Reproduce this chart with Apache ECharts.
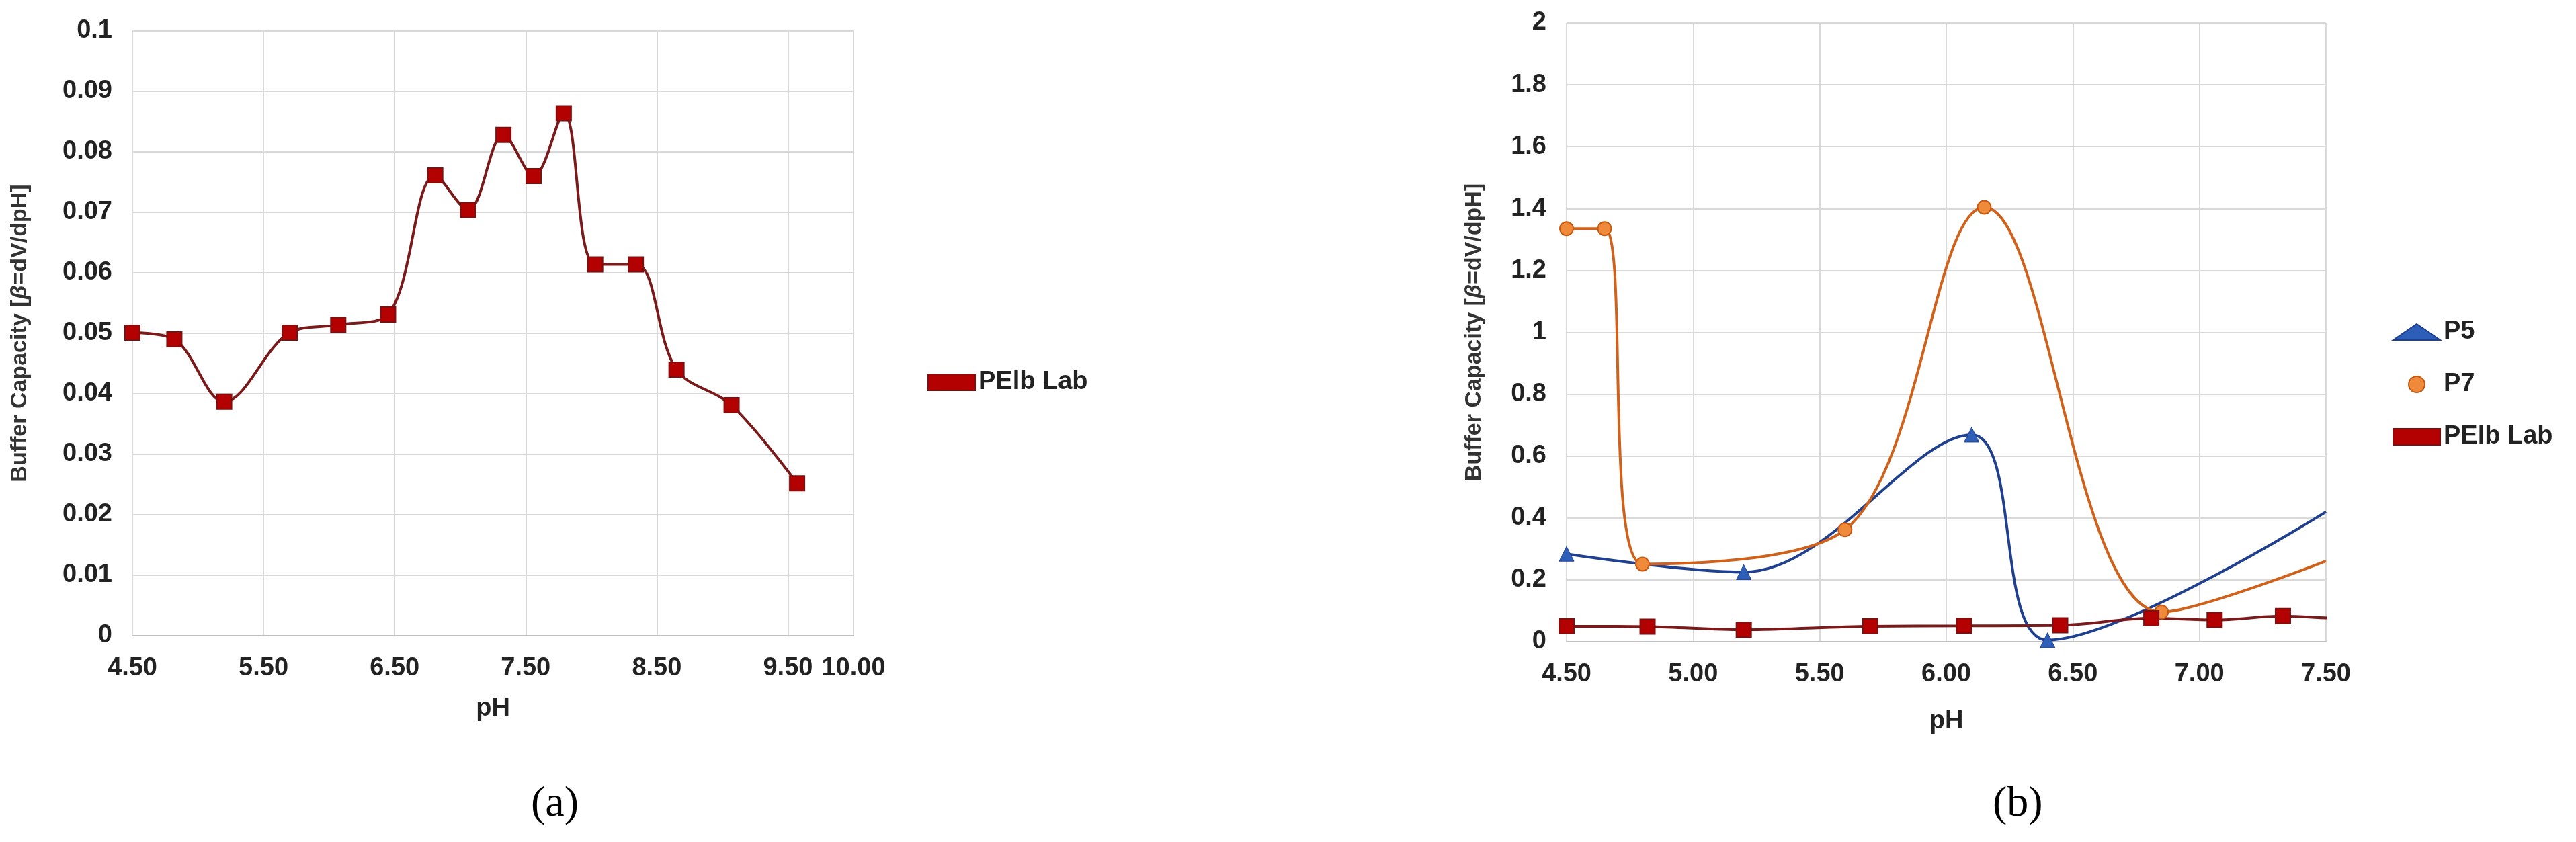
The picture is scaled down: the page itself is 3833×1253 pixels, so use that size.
<!DOCTYPE html>
<html>
<head>
<meta charset="utf-8">
<script src="https://cdn.jsdelivr.net/npm/echarts@6/dist/echarts.min.js"></script>
<style>
  html, body { margin: 0; padding: 0; background: #fff; }
  #chart { width: 3833px; height: 1253px; }
</style>
</head>
<body>
<div id="chart"></div>
<script>
// panel (a): PElb Lab
var pelbPH  = [4.50, 4.82, 5.20, 5.70, 6.07, 6.45, 6.81, 7.06, 7.33, 7.56, 7.79, 8.03, 8.34, 8.65, 9.07, 9.57];
var pelbBC  = [0.0501, 0.0490, 0.0387, 0.0501, 0.0514, 0.0531, 0.0761, 0.0704, 0.0828, 0.0760, 0.0864, 0.0614, 0.0614, 0.0440, 0.0381, 0.0252];
// panel (b)
var p5PH = [4.50, 5.20, 6.10, 6.40, 7.50];
var p5BC = [0.284, 0.225, 0.669, 0.005, 0.42];
var p7PH = [4.50, 4.65, 4.80, 5.60, 6.15, 6.85, 7.50];
var p7BC = [1.335, 1.335, 0.251, 0.362, 1.404, 0.096, 0.261];
var p5Marked = 4, p7Marked = 6;   // last point is the curve leaving the plot, no marker

var FONT = "'Liberation Sans Narrow', 'Liberation Sans', Arial, sans-serif";
var axisText = { fontFamily: FONT, fontWeight: 'bold', fontSize: 38, color: '#222' };

function pairs(xs, ys, shift, nMarked) {
  return xs.map(function (x, i) {
    var item = { value: [x - shift, ys[i]] };
    if (nMarked != null && i >= nMarked) item.symbol = 'none';
    return item;
  });
}

var yName = {
  text: '{n|Buffer Capacity [}{b|β}{n|=dV/dpH]}',
};

var chart = echarts.init(document.getElementById('chart'));
var option = {
  backgroundColor: '#fff',
  animation: false,
  grid: [
    { left: 197, top: 46, width: 1073, height: 900 },
    { left: 2331, top: 34, width: 1130, height: 921 }
  ],
  xAxis: [
    { // shifted by 0.5 so ticks fall on 4.5, 5.5, ...
      gridIndex: 0, type: 'value', min: 4, max: 9.5, interval: 1,
      name: 'pH', nameLocation: 'middle', nameGap: 90, nameTextStyle: axisText,
      axisLine: { lineStyle: { color: '#bfbfbf', width: 2 } }, axisTick: { show: false },
      axisLabel: Object.assign({ margin: 30, formatter: function (v) { return (v + 0.5).toFixed(2); } }, axisText),
      splitLine: { lineStyle: { color: '#d9d9d9', width: 2 } }
    },
    {
      gridIndex: 1, type: 'value', min: 4.5, max: 7.5, interval: 0.5,
      name: 'pH', nameLocation: 'middle', nameGap: 100, nameTextStyle: axisText,
      axisLine: { lineStyle: { color: '#bfbfbf', width: 2 } }, axisTick: { show: false },
      axisLabel: Object.assign({ margin: 30, formatter: function (v) { return v.toFixed(2); } }, axisText),
      splitLine: { lineStyle: { color: '#d9d9d9', width: 2 } }
    }
  ],
  yAxis: [
    {
      gridIndex: 0, type: 'value', min: 0, max: 0.1, interval: 0.01,
      name: yName.text, nameLocation: 'middle', nameGap: 150,
      nameTextStyle: { rich: { n: { fontFamily: 'Liberation Sans', fontWeight: 'bold', fontSize: 34, color: '#333' },
                               b: { fontFamily: 'Liberation Sans', fontWeight: 'bold', fontStyle: 'italic', fontSize: 34, color: '#333' } } },
      axisLine: { show: false }, axisTick: { show: false },
      axisLabel: Object.assign({ margin: 30, formatter: function (v) { return +v.toFixed(2) + ''; } }, axisText),
      splitLine: { lineStyle: { color: '#d9d9d9', width: 2 } }
    },
    {
      gridIndex: 1, type: 'value', min: 0, max: 2, interval: 0.2,
      name: yName.text, nameLocation: 'middle', nameGap: 120,
      nameTextStyle: { rich: { n: { fontFamily: 'Liberation Sans', fontWeight: 'bold', fontSize: 34, color: '#333' },
                               b: { fontFamily: 'Liberation Sans', fontWeight: 'bold', fontStyle: 'italic', fontSize: 34, color: '#333' } } },
      axisLine: { show: false }, axisTick: { show: false },
      axisLabel: Object.assign({ margin: 30, formatter: function (v) { return +v.toFixed(1) + ''; } }, axisText),
      splitLine: { lineStyle: { color: '#d9d9d9', width: 2 } }
    }
  ],
  legend: [
    {
      left: 1375, top: 545, itemWidth: 70, itemHeight: 24,
      textStyle: axisText, data: [{ name: 'PElb Lab ', icon: 'rect' }]
    },
    {
      left: 3555, top: 470, orient: 'vertical', itemGap: 40, itemWidth: 70, itemHeight: 24,
      textStyle: axisText,
      data: [{ name: 'P5', icon: 'triangle' }, { name: 'P7', icon: 'circle' }, { name: 'PElb Lab', icon: 'rect' }]
    }
  ],
  series: [
    {
      name: 'PElb Lab ', type: 'line', xAxisIndex: 0, yAxisIndex: 0, smooth: 0.35,
      data: pairs(pelbPH, pelbBC, 0.5),
      symbol: 'rect', symbolSize: 22,
      lineStyle: { color: '#7a1a1a', width: 4 },
      itemStyle: { color: '#b30000', borderColor: '#7a1010', borderWidth: 2 }
    },
    {
      name: 'P5', type: 'line', xAxisIndex: 1, yAxisIndex: 1, smooth: 0.35, clip: true,
      data: pairs(p5PH, p5BC, 0, p5Marked),
      symbol: 'triangle', symbolSize: 22,
      lineStyle: { color: '#1f3f8f', width: 4 },
      itemStyle: { color: '#2e5fb8', borderColor: '#1f3f8f', borderWidth: 1 }
    },
    {
      name: 'P7', type: 'line', xAxisIndex: 1, yAxisIndex: 1, smooth: 0.35, clip: true,
      data: pairs(p7PH, p7BC, 0, p7Marked),
      symbol: 'circle', symbolSize: 20,
      lineStyle: { color: '#d0611a', width: 4 },
      itemStyle: { color: '#ee8a3a', borderColor: '#c65911', borderWidth: 2 }
    },
    {
      name: 'PElb Lab', type: 'line', xAxisIndex: 1, yAxisIndex: 1, smooth: 0.35, clip: true,
      data: pairs(pelbPH, pelbBC, 0),
      symbol: 'rect', symbolSize: 22,
      lineStyle: { color: '#7a1a1a', width: 4 },
      itemStyle: { color: '#b30000', borderColor: '#7a1010', borderWidth: 2 }
    }
  ],
  graphic: [
    { type: 'text', left: 790, top: 1165, style: { text: '(a)', font: '64px "Liberation Serif", serif', fill: '#000' } },
    { type: 'text', left: 2965, top: 1165, style: { text: '(b)', font: '64px "Liberation Serif", serif', fill: '#000' } }
  ]
};
chart.setOption(option);
</script>
</body>
</html>
